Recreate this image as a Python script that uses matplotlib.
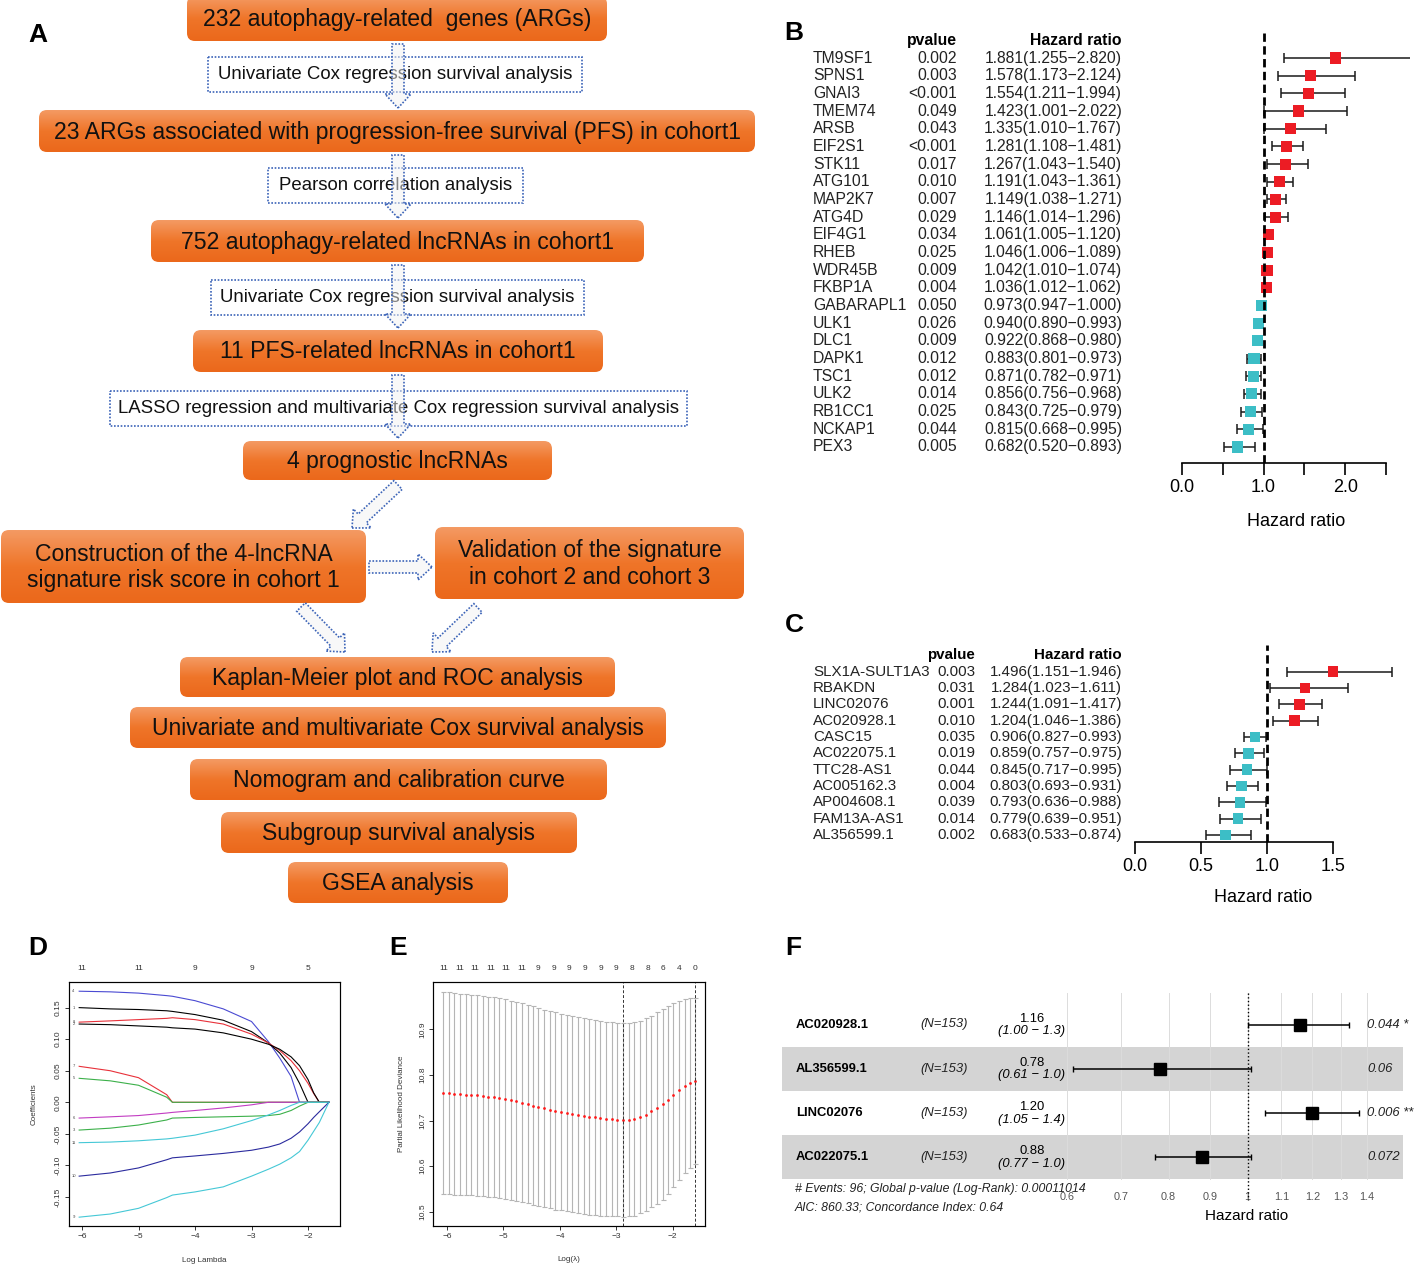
import numpy as np
import matplotlib.pyplot as plt
from matplotlib.patches import FancyBboxPatch, FancyArrow, Rectangle
from matplotlib.colors import LinearSegmentedColormap
from matplotlib.ticker import NullLocator

plt.rcParams['font.family'] = ['Liberation Sans', 'DejaVu Sans']

# ---------------- data ----------------
# A: workflow
main_steps = ["232 autophagy-related  genes (ARGs)",
              "23 ARGs associated with progression-free survival (PFS) in cohort1",
              "752 autophagy-related lncRNAs in cohort1",
              "11 PFS-related lncRNAs in cohort1",
              "4 prognostic lncRNAs"]
method_steps = ["Univariate Cox regression survival analysis",
                "Pearson correlation analysis",
                "Univariate Cox regression survival analysis",
                "LASSO regression and multivariate Cox regression survival analysis"]
branch_steps = ["Construction of the 4-lncRNA\nsignature risk score in cohort 1",
                "Validation of the signature\nin cohort 2 and cohort 3"]
final_steps = ["Kaplan-Meier plot and ROC analysis",
               "Univariate and multivariate Cox survival analysis",
               "Nomogram and calibration curve",
               "Subgroup survival analysis",
               "GSEA analysis"]

# B: univariate Cox of ARGs
arg_names = ["TM9SF1", "SPNS1", "GNAI3", "TMEM74", "ARSB", "EIF2S1", "STK11", "ATG101",
             "MAP2K7", "ATG4D", "EIF4G1", "RHEB", "WDR45B", "FKBP1A", "GABARAPL1", "ULK1",
             "DLC1", "DAPK1", "TSC1", "ULK2", "RB1CC1", "NCKAP1", "PEX3"]
arg_p = ["0.002", "0.003", "<0.001", "0.049", "0.043", "<0.001", "0.017", "0.010", "0.007",
         "0.029", "0.034", "0.025", "0.009", "0.004", "0.050", "0.026", "0.009", "0.012",
         "0.012", "0.014", "0.025", "0.044", "0.005"]
arg_hr = [1.881, 1.578, 1.554, 1.423, 1.335, 1.281, 1.267, 1.191, 1.149, 1.146, 1.061, 1.046,
          1.042, 1.036, 0.973, 0.940, 0.922, 0.883, 0.871, 0.856, 0.843, 0.815, 0.682]
arg_lo = [1.255, 1.173, 1.211, 1.001, 1.010, 1.108, 1.043, 1.043, 1.038, 1.014, 1.005, 1.006,
          1.010, 1.012, 0.947, 0.890, 0.868, 0.801, 0.782, 0.756, 0.725, 0.668, 0.520]
arg_hi = [2.820, 2.124, 1.994, 2.022, 1.767, 1.481, 1.540, 1.361, 1.271, 1.296, 1.120, 1.089,
          1.074, 1.062, 1.000, 0.993, 0.980, 0.973, 0.971, 0.968, 0.979, 0.995, 0.893]

# C: univariate Cox of lncRNAs
lnc_names = ["SLX1A-SULT1A3", "RBAKDN", "LINC02076", "AC020928.1", "CASC15", "AC022075.1",
             "TTC28-AS1", "AC005162.3", "AP004608.1", "FAM13A-AS1", "AL356599.1"]
lnc_p = ["0.003", "0.031", "0.001", "0.010", "0.035", "0.019", "0.044", "0.004", "0.039",
         "0.014", "0.002"]
lnc_hr = [1.496, 1.284, 1.244, 1.204, 0.906, 0.859, 0.845, 0.803, 0.793, 0.779, 0.683]
lnc_lo = [1.151, 1.023, 1.091, 1.046, 0.827, 0.757, 0.717, 0.693, 0.636, 0.639, 0.533]
lnc_hi = [1.946, 1.611, 1.417, 1.386, 0.993, 0.975, 0.995, 0.931, 0.988, 0.951, 0.874]

# D: LASSO coefficient paths
path_loglam = [-6.05, -5.5, -5.0, -4.5, -4.4, -4.0, -3.5, -3.0, -2.7, -2.5, -2.3, -2.15,
               -2.0, -1.9, -1.8, -1.63]
path_ids = ["4", "1", "8", "2", "7", "5", "6", "3", "11", "10", "9"]
coef_paths = [
    [0.176, 0.175, 0.173, 0.169, 0.168, 0.161, 0.148, 0.128, 0.096, 0.070, 0.041, 0.0, 0, 0, 0, 0],
    [0.150, 0.148, 0.147, 0.145, 0.144, 0.139, 0.130, 0.112, 0.094, 0.078, 0.055, 0.030, 0.0, 0, 0, 0],
    [0.127, 0.129, 0.131, 0.133, 0.134, 0.131, 0.124, 0.108, 0.094, 0.082, 0.066, 0.050, 0.030, 0.014, 0.0, 0],
    [0.124, 0.123, 0.121, 0.119, 0.118, 0.116, 0.110, 0.100, 0.092, 0.084, 0.072, 0.058, 0.036, 0.015, 0.0, 0],
    [0.057, 0.050, 0.039, 0.012, 0.0, 0, 0, 0, 0, 0, 0, 0, 0, 0, 0, 0],
    [0.038, 0.034, 0.027, 0.008, 0.0, 0, 0, 0, 0, 0, 0, 0, 0, 0, 0, 0],
    [-0.025, -0.023, -0.021, -0.017, -0.016, -0.013, -0.009, -0.004, 0.0, 0, 0, 0, 0, 0, 0, 0],
    [-0.044, -0.041, -0.036, -0.028, -0.025, -0.024, -0.023, -0.022, -0.021, -0.019, -0.013, -0.006, 0.0, 0, 0, 0],
    [-0.064, -0.063, -0.061, -0.058, -0.057, -0.052, -0.042, -0.029, -0.020, -0.013, -0.005, 0.0, 0, 0, 0, 0],
    [-0.117, -0.112, -0.104, -0.091, -0.088, -0.085, -0.081, -0.076, -0.071, -0.066, -0.057, -0.047, -0.034, -0.024, -0.015, 0.0],
    [-0.182, -0.177, -0.168, -0.151, -0.147, -0.142, -0.134, -0.117, -0.106, -0.098, -0.088, -0.078, -0.060, -0.046, -0.032, 0.0],
]
path_colors = ["#4a4ad2", "black", "#e8313a", "black", "#e8313a", "#3cb04a", "#c23cc2",
               "#3cb04a", "#45c8d6", "#2b2b9e", "#45c8d6"]
d_top_pos = [-6, -5, -4, -3, -2]
d_top_lab = ["11", "11", "9", "9", "5"]

# E: cross-validation
cv_loglam = [-6.07, -5.97, -5.87, -5.77, -5.67, -5.57, -5.47, -5.37, -5.27, -5.17,
             -5.07, -4.97, -4.87, -4.77, -4.67, -4.57, -4.48, -4.38, -4.28, -4.18,
             -4.08, -3.98, -3.88, -3.78, -3.68, -3.58, -3.48, -3.38, -3.28, -3.18,
             -3.08, -2.98, -2.88, -2.78, -2.68, -2.58, -2.48, -2.38, -2.28, -2.18,
             -2.08, -1.99, -1.89, -1.79, -1.69, -1.60]
cv_mean = [10.761, 10.760, 10.759, 10.758, 10.757, 10.756, 10.755, 10.754, 10.752, 10.751,
           10.749, 10.747, 10.745, 10.742, 10.739, 10.736, 10.733, 10.730, 10.727, 10.724,
           10.721, 10.718, 10.716, 10.714, 10.712, 10.710, 10.708, 10.707, 10.705, 10.704,
           10.703, 10.702, 10.701, 10.702, 10.704, 10.708, 10.713, 10.720, 10.727, 10.736,
           10.746, 10.756, 10.766, 10.776, 10.783, 10.786]
cv_se = [0.221, 0.221, 0.221, 0.220, 0.220, 0.220, 0.220, 0.220, 0.219, 0.219,
         0.219, 0.219, 0.218, 0.218, 0.218, 0.217, 0.217, 0.217, 0.216, 0.216,
         0.216, 0.215, 0.215, 0.215, 0.214, 0.214, 0.214, 0.213, 0.213, 0.213,
         0.212, 0.212, 0.212, 0.212, 0.212, 0.211, 0.211, 0.210, 0.210, 0.209,
         0.206, 0.201, 0.196, 0.191, 0.186, 0.182]
e_top_pos = [-6.05, -5.78, -5.50, -5.22, -4.95, -4.67, -4.39, -4.11, -3.83, -3.56, -3.28,
             -3.00, -2.72, -2.44, -2.17, -1.89, -1.60]
e_top_lab = ["11", "11", "11", "11", "11", "11", "9", "9", "9", "9", "9", "9", "8", "8",
             "6", "4", "0"]

# F: multivariate Cox
mv_names = ["AC020928.1", "AL356599.1", "LINC02076", "AC022075.1"]
mv_n = ["(N=153)", "(N=153)", "(N=153)", "(N=153)"]
mv_hr = [1.16, 0.78, 1.20, 0.88]
mv_lo = [1.00, 0.61, 1.05, 0.77]
mv_hi = [1.33, 1.01, 1.37, 1.01]
mv_p = ["0.044 *", "0.06", "0.006 **", "0.072"]
f_ticks = [0.6, 0.7, 0.8, 0.9, 1.0, 1.1, 1.2, 1.3, 1.4]
f_ticklabels = ["0.6", "0.7", "0.8", "0.9", "1", "1.1", "1.2", "1.3", "1.4"]
f_notes = ["# Events: 96; Global p-value (Log-Rank): 0.00011014",
           "AIC: 860.33; Concordance Index: 0.64"]

# ---------------- figure ----------------
W, H = 1417, 1264
fig = plt.figure(figsize=(W / 100, H / 100), dpi=100)


def px_axes(left, top, right, bottom):
    return fig.add_axes([left / W, 1 - bottom / H, (right - left) / W, (bottom - top) / H])


bg = px_axes(0, 0, W, H)
bg.axis('off')

# ---- A ----
orange = LinearSegmentedColormap.from_list('orange', ['#F49A63', '#EF7529', '#EB681B'])
grad = np.linspace(0, 1, 64).reshape(-1, 1)
blue = '#3c64b8'


def orange_box(box, text, size=16.6):
    x0, y0, x1, y1 = box
    patch = FancyBboxPatch((x0, y0), x1 - x0, y1 - y0,
                           boxstyle='round,pad=0,rounding_size=8', fc='none', ec='none')
    bg.add_patch(patch)
    im = bg.imshow(grad, cmap=orange, extent=(x0, x1, y1, y0), aspect='auto', zorder=1)
    im.set_clip_path(patch)
    bg.text((x0 + x1) / 2, (y0 + y1) / 2 + 1, text, ha='center', va='center', fontsize=size,
            color='#111111', zorder=3, linespacing=1.2)


def dotted_box(box, text):
    x0, y0, x1, y1 = box
    bg.add_patch(Rectangle((x0, y0), x1 - x0, y1 - y0, fc='white', ec=blue,
                           ls=(0, (1, 1)), lw=1.2, zorder=2))
    bg.text((x0 + x1) / 2, (y0 + y1) / 2, text, ha='center', va='center', fontsize=13.4,
            color='#111111', zorder=3)


def hollow_arrow(x, y, x2, y2):
    bg.add_patch(FancyArrow(x, y, x2 - x, y2 - y, width=12, head_width=26, head_length=14,
                            length_includes_head=True, fc=(0.95, 0.95, 0.95, 0.5), ec=blue,
                            ls=(0, (1, 1)), lw=1.2, zorder=4))


main_boxes = [(187, -4, 607, 41), (39, 110, 755, 152), (151, 220, 644, 262),
              (193, 330, 603, 372), (243, 441, 552, 480)]
method_boxes = [(208, 57, 582, 92), (268, 168, 523, 203), (211, 280, 584, 315),
                (110, 391, 687, 426)]
branch_boxes = [(1, 530, 366, 603), (435, 527, 744, 599)]
final_boxes = [(180, 657, 615, 697), (130, 707, 666, 748), (190, 759, 607, 800),
               (221, 812, 577, 853), (288, 862, 508, 903)]

for box, t in zip(main_boxes, main_steps):
    orange_box(box, t)
for box, t in zip(method_boxes, method_steps):
    dotted_box(box, t)
for box, t in zip(branch_boxes, branch_steps):
    orange_box(box, t)
for box, t in zip(final_boxes, final_steps):
    orange_box(box, t)

for y0, y1 in [(44, 108), (155, 218), (265, 328), (375, 438)]:
    hollow_arrow(398, y0, 398, y1)
hollow_arrow(398, 485, 352, 528)
hollow_arrow(369, 567, 432, 567)
hollow_arrow(301, 607, 345, 652)
hollow_arrow(478, 608, 432, 652)

bg.set_xlim(0, W)
bg.set_ylim(H, 0)

for lab, x, y in [('A', 38, 35), ('B', 794, 33), ('C', 794, 625), ('D', 38, 948),
                  ('E', 398, 948), ('F', 793, 948)]:
    bg.text(x, y, lab, ha='center', va='center', fontsize=19, fontweight='bold')


# ---- B and C ----
def forest(names, pvals, hr, lo, hi, frame, zero, unit, row0, rowh, p_right, xmax,
           ticklabels, ms, fs):
    left, top, right, bottom = frame
    ax = px_axes(left, top, right, bottom)
    ax.set_xlim((left - zero) / unit, (right - zero) / unit)
    ax.set_ylim((bottom - row0) / rowh, (top - row0) / rowh)
    ax.patch.set_alpha(0)
    hr, lo, hi = np.asarray(hr), np.asarray(lo), np.asarray(hi)
    rows = np.arange(len(names))
    ax.errorbar(hr, rows, xerr=[hr - lo, hi - hr], fmt='none', ecolor='#1a1a1a',
                elinewidth=1.1, capsize=3.5, capthick=1.1, zorder=2)
    cols = np.where(hr > 1, '#EC1C24', '#3CBEC6')
    ax.scatter(hr, rows, marker='s', s=ms ** 2, c=cols, linewidths=0, zorder=3)
    ax.axvline(1, color='black', lw=2, ls=(0, (3, 1.6)), zorder=4)

    def tx(p):
        return (p - zero) / unit

    for i in rows:
        ax.text(tx(813), i, names[i], ha='left', va='center', fontsize=fs, color='#222222')
        ax.text(tx(p_right), i, pvals[i], ha='right', va='center', fontsize=fs,
                color='#222222')
        ax.text(tx(1122), i, f'{hr[i]:.3f}({lo[i]:.3f}\u2212{hi[i]:.3f})', ha='right',
                va='center', fontsize=fs, color='#222222')
    ax.text(tx(p_right), -1.0, 'pvalue', ha='right', va='center', fontsize=fs,
            fontweight='bold')
    ax.text(tx(1122), -1.0, 'Hazard ratio', ha='right', va='center', fontsize=fs,
            fontweight='bold')
    for s in ['top', 'right', 'left']:
        ax.spines[s].set_visible(False)
    ax.spines['bottom'].set_bounds(0, xmax)
    ax.spines['bottom'].set_linewidth(1.2)
    ax.set_xticks(np.arange(len(ticklabels)) * 0.5)
    ax.set_xticklabels(ticklabels, fontsize=13)
    ax.tick_params(axis='x', length=8.5, width=1.2, pad=3)
    ax.set_yticks([])
    return ax


forest(arg_names, arg_p, arg_hr, arg_lo, arg_hi, (800, 30, 1410, 463), 1182, 81.6, 58, 17.68,
       957, 2.5, ["0.0", "", "1.0", "", "2.0", ""], 8, 11.3)
bg.text(1296, 521, 'Hazard ratio', ha='center', va='center', fontsize=13)

forest(lnc_names, lnc_p, lnc_hr, lnc_lo, lnc_hi, (800, 645, 1410, 842), 1135, 132.3, 671.7,
       16.33, 975, 1.5, ["0.0", "0.5", "1.0", "1.5"], 7.6, 10.9)
bg.text(1263, 897, 'Hazard ratio', ha='center', va='center', fontsize=13)


# ---- D ----
def r_style(ax):
    for s in ax.spines.values():
        s.set_linewidth(0.8)
        s.set_color('#333333')
    ax.tick_params(axis='both', length=3, width=0.7, labelsize=6, colors='#333333', pad=2)
    plt.setp(ax.get_yticklabels(), rotation=90, va='center', ha='right')


axD = px_axes(69, 982, 340, 1226)
for vals, col, pid in zip(coef_paths, path_colors, path_ids):
    axD.plot(path_loglam, vals, color=col, lw=0.8)
    axD.text(-6.15, vals[0], pid, fontsize=3, ha='center', va='center', color='#444444')
axD.set_xlim(-6.23, -1.434)
axD.set_ylim(-0.196, 0.1906)
axD.set_xticks([-6, -5, -4, -3, -2])
axD.set_yticks([-0.15, -0.10, -0.05, 0.0, 0.05, 0.10, 0.15])
axD.set_yticklabels([f'{v:.2f}' for v in axD.get_yticks()])
r_style(axD)
topD = axD.twiny()
topD.set_xlim(axD.get_xlim())
topD.set_xticks(d_top_pos)
topD.set_xticklabels(d_top_lab)
topD.tick_params(axis='x', length=0, labelsize=6, colors='#333333', pad=7)
axD.set_xlabel('Log Lambda', fontsize=5.8, color='#333333')
axD.xaxis.set_label_coords(0.5, -0.128)
axD.set_ylabel('Coefficients', fontsize=5.8, color='#333333')
axD.yaxis.set_label_coords(-0.114, 0.5)

# ---- E ----
axE = px_axes(433, 982, 705, 1226)
m = np.asarray(cv_mean)
se = np.asarray(cv_se)
axE.errorbar(cv_loglam, m, yerr=se, fmt='none', ecolor='#b5b5b5', elinewidth=0.8,
             capsize=1.8, capthick=0.8)
axE.plot(cv_loglam, m, 'o', color='#ff1a1a', ms=2, mew=0)
imin = int(np.argmin(m))
lam_min = cv_loglam[imin]
lam_1se = max(x for x, v in zip(cv_loglam, m) if v <= m[imin] + se[imin])
for xv in (lam_min, lam_1se):
    axE.axvline(xv, color='#333333', lw=0.7, ls=(0, (3, 2)))
axE.set_xlim(-6.248, -1.427)
axE.set_ylim(10.469, 11.0036)
axE.set_xticks([-6, -5, -4, -3, -2])
axE.set_yticks([10.5, 10.6, 10.7, 10.8, 10.9])
axE.set_yticklabels([f'{v:.1f}' for v in axE.get_yticks()])
r_style(axE)
topE = axE.twiny()
topE.set_xlim(axE.get_xlim())
topE.set_xticks(e_top_pos)
topE.set_xticklabels(e_top_lab)
topE.tick_params(axis='x', length=0, labelsize=6, colors='#333333', pad=7)
axE.set_xlabel('Log(\u03bb)', fontsize=5.8, color='#333333')
axE.xaxis.set_label_coords(0.5, -0.122)
axE.set_ylabel('Partial Likelihood Deviance', fontsize=5.8, color='#333333')
axE.yaxis.set_label_coords(-0.103, 0.5)

# ---- F ----
F_ONE, F_LOG = 1247.7, 354.4
F_ROW0, F_ROWH = 1024.5, 44.2
axF = px_axes(782, 993, 1403, 1180)
axF.set_xscale('log')
axF.set_xlim(np.exp((782 - F_ONE) / F_LOG), np.exp((1403 - F_ONE) / F_LOG))
ytop = (993 - F_ROW0) / F_ROWH
axF.set_ylim((1180 - F_ROW0) / F_ROWH, ytop)
for s in axF.spines.values():
    s.set_visible(False)
rows = np.arange(len(mv_names))
for i in rows[1::2]:
    axF.axhspan(i - 0.5, i + 0.5, color='#d4d4d4', lw=0, zorder=0)
for t in f_ticks:
    axF.axvline(t, color='#dcdcdc', lw=0.7, zorder=1)
hr = np.asarray(mv_hr)
axF.errorbar(hr, rows, xerr=[hr - np.asarray(mv_lo), np.asarray(mv_hi) - hr], fmt='none',
             ecolor='black', elinewidth=1.1, capsize=2.5, capthick=1.0, zorder=3)
axF.plot(hr, rows, 's', color='black', ms=8.5, zorder=4)
axF.plot([1, 1], [ytop, (1200 - F_ROW0) / F_ROWH], color='black', lw=1, ls=':',
         clip_on=False, zorder=2)


def fx(p):
    return np.exp((p - F_ONE) / F_LOG)


for i in rows:
    axF.text(fx(796), i, mv_names[i], ha='left', va='center', fontsize=9.4, fontweight='bold')
    axF.text(fx(920), i, mv_n[i], ha='left', va='center', fontsize=9.4, style='italic',
             color='#222222')
    axF.text(fx(1032), i - 0.13, f'{mv_hr[i]:.2f}', ha='center', va='center', fontsize=9.4)
    axF.text(fx(1032), i + 0.15, f'({mv_lo[i]:.2f} \u2212 {mv_hi[i]:.1f})', ha='center',
             va='center', fontsize=9.4, style='italic')
    axF.text(fx(1367), i, mv_p[i], ha='left', va='center', fontsize=9.4, style='italic',
             color='#222222')
axF.set_xticks(f_ticks)
axF.set_xticklabels(f_ticklabels)
axF.xaxis.set_minor_locator(NullLocator())
axF.tick_params(axis='x', length=0, labelsize=7.8, colors='#555555', pad=9)
axF.set_yticks([])
axF.patch.set_alpha(0)

bg.text(795, 1189, f_notes[0], ha='left', va='center', fontsize=8.8, style='italic',
        color='#222222')
bg.text(795, 1208, f_notes[1], ha='left', va='center', fontsize=8.8, style='italic',
        color='#222222')
bg.text(1247, 1216, 'Hazard ratio', ha='center', va='center', fontsize=11)

fig.savefig('out.png', dpi=100, facecolor='white')
